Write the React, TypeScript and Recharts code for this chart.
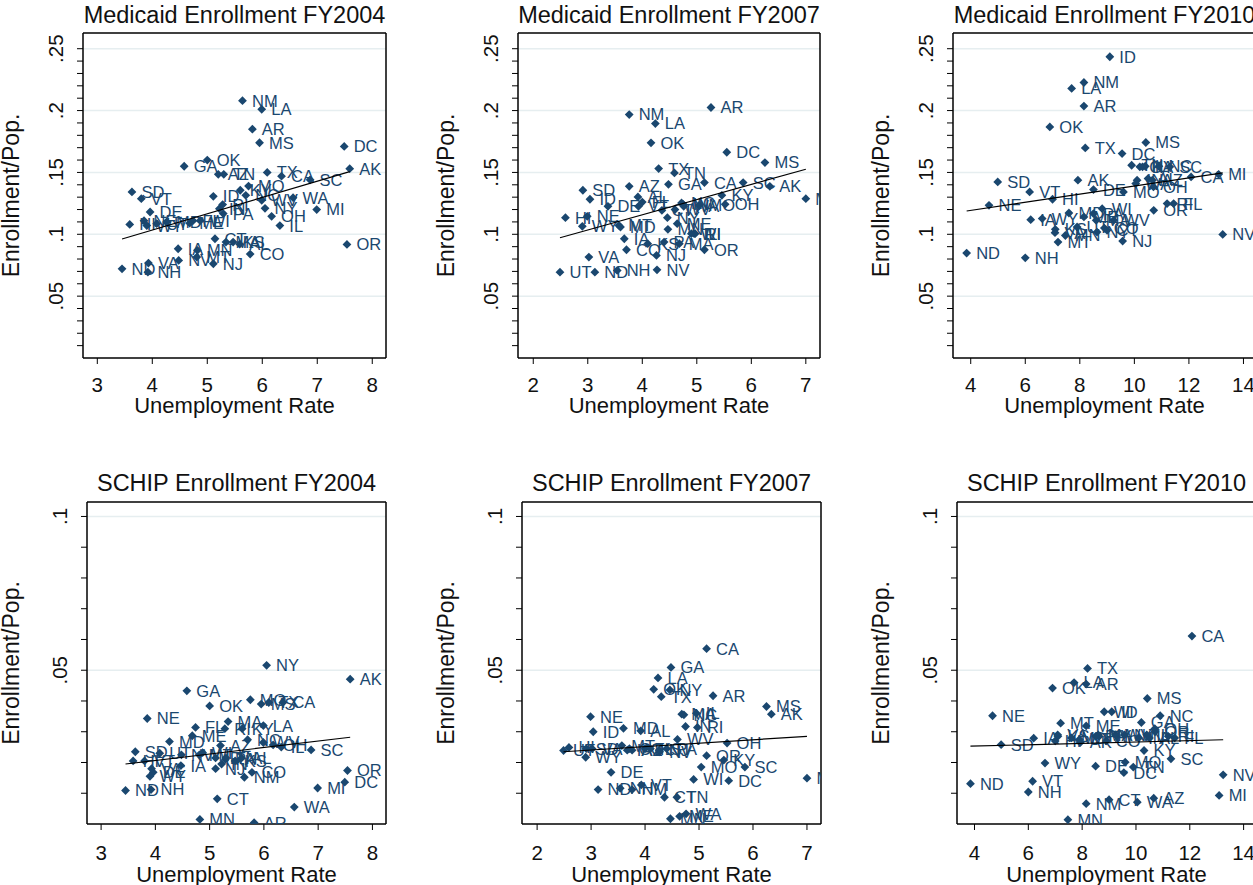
import React from "react";
import { ScatterChart, Scatter, XAxis, YAxis, ReferenceLine } from "recharts";

// state order shared by every array below
const states = [
  "AL", "AK", "AZ", "AR", "CA", "CO", "CT", "DE", "DC", "FL", "GA", "HI", "ID",
  "IL", "IN", "IA", "KS", "KY", "LA", "ME", "MD", "MA", "MI", "MN", "MS", "MO",
  "MT", "NE", "NV", "NH", "NJ", "NM", "NY", "NC", "ND", "OH", "OK", "OR", "PA",
  "RI", "SC", "SD", "TN", "TX", "UT", "VT", "VA", "WA", "WV", "WI", "WY",
];

const unemp2004 = [
  5.59, 7.59, 5.2, 5.82, 6.35, 5.78, 5.14, 3.96, 7.49, 4.74, 4.58, 3.59, 5.11,
  6.32, 5.22, 4.47, 5.47, 5.6, 5.99, 4.68, 4.26, 5.34, 6.99, 4.82, 5.95, 5.75,
  4.81, 3.85, 4.48, 3.92, 5.11, 5.64, 6.05, 5.7, 3.45, 6.17, 5.0, 7.54, 5.29,
  5.28, 6.87, 3.63, 5.3, 6.09, 4.08, 3.8, 3.93, 6.56, 5.99, 4.87, 3.9,
];
const medicaid2004 = [
  0.092, 0.153, 0.1485, 0.185, 0.147, 0.084, 0.0964, 0.118, 0.171, 0.111, 0.155, 0.108, 0.1307,
  0.107, 0.1207, 0.0883, 0.0937, 0.1356, 0.201, 0.109, 0.11, 0.0937, 0.12, 0.087, 0.174, 0.139,
  0.0816, 0.111, 0.0789, 0.0694, 0.0762, 0.208, 0.121, 0.1315, 0.0721, 0.1145, 0.16, 0.0918, 0.1167,
  0.124, 0.144, 0.1342, 0.1485, 0.15, 0.1086, 0.1288, 0.0767, 0.1296, 0.1275, 0.111, 0.107,
];
const schip2004 = [
  0.0215, 0.0471, 0.0255, 0.0004, 0.0395, 0.0168, 0.0082, 0.0168, 0.0136, 0.0314, 0.0433, 0.0205, 0.0215,
  0.025, 0.0195, 0.019, 0.0205, 0.031, 0.032, 0.0287, 0.0268, 0.0333, 0.0117, 0.0015, 0.039, 0.0404,
  0.0225, 0.0343, 0.0225, 0.0112, 0.018, 0.0152, 0.0516, 0.0274, 0.0109, 0.0257, 0.0384, 0.0174, 0.021,
  0.031, 0.0241, 0.0235, 0.0215, 0.0395, 0.023, 0.0205, 0.018, 0.0055, 0.0265, 0.0232, 0.0155,
];

const unemp2007 = [
  3.92, 6.34, 3.76, 5.26, 5.14, 3.71, 4.36, 3.37, 5.55, 4.0, 4.48, 2.59, 3.04,
  4.95, 4.75, 3.67, 4.1, 5.46, 4.24, 4.64, 3.6, 4.68, 7.0, 4.47, 6.25, 5.04,
  3.57, 2.99, 4.27, 3.54, 4.26, 3.76, 4.46, 4.72, 3.13, 5.52, 4.16, 5.14, 4.4,
  4.97, 5.85, 2.91, 4.59, 4.3, 2.49, 3.93, 3.02, 4.76, 4.6, 4.9, 2.9,
];
const medicaid2007 = [
  0.1302, 0.1388, 0.1388, 0.2025, 0.1418, 0.0875, 0.1194, 0.1226, 0.1663, 0.126, 0.1404, 0.1134, 0.1283,
  0.1005, 0.1242, 0.0964, 0.0924, 0.1315, 0.1895, 0.1086, 0.1059, 0.0924, 0.1288, 0.104, 0.158, 0.1234,
  0.1072, 0.1145, 0.0713, 0.0708, 0.0829, 0.1968, 0.1134, 0.1253, 0.0694, 0.1242, 0.1739, 0.0875, 0.0937,
  0.1005, 0.1418, 0.1356, 0.1496, 0.1531, 0.0694, 0.1226, 0.0816, 0.1226, 0.12, 0.1005, 0.1064,
];
const schip2007 = [
  0.0303, 0.0357, 0.024, 0.0417, 0.057, 0.0245, 0.0087, 0.0168, 0.0141, 0.0245, 0.0509, 0.0249, 0.03,
  0.036, 0.0317, 0.024, 0.0245, 0.0208, 0.0475, 0.0025, 0.0311, 0.0357, 0.0149, 0.0017, 0.0382, 0.0185,
  0.0255, 0.0349, 0.0235, 0.0116, 0.024, 0.0112, 0.0436, 0.0355, 0.0112, 0.0263, 0.0438, 0.0222, 0.0245,
  0.0314, 0.0185, 0.0245, 0.0087, 0.0414, 0.0239, 0.0127, 0.0245, 0.0033, 0.0275, 0.0145, 0.0217,
];

const unemp2010 = [
  10.5, 7.93, 10.66, 8.15, 12.08, 8.9, 9.0, 8.5, 9.55, 11.44, 10.2, 7.0, 9.1,
  10.4, 10.1, 6.2, 7.1, 10.3, 7.7, 8.15, 7.6, 8.6, 13.09, 7.47, 10.42, 9.6,
  7.2, 4.67, 13.24, 6.0, 9.57, 8.15, 8.63, 10.9, 3.85, 10.7, 6.9, 10.71, 8.5,
  11.2, 11.3, 4.99, 9.9, 8.2, 7.9, 6.16, 7.09, 10.05, 9.24, 8.82, 6.62,
];
const medicaid2010 = [
  0.145, 0.1437, 0.1437, 0.2036, 0.1464, 0.105, 0.1032, 0.1361, 0.1652, 0.1248, 0.1545, 0.1283, 0.2435,
  0.155, 0.1437, 0.1118, 0.104, 0.1545, 0.2179, 0.114, 0.1172, 0.1113, 0.1485, 0.099, 0.1742, 0.1342,
  0.0937, 0.1234, 0.0999, 0.081, 0.0945, 0.2227, 0.1018, 0.155, 0.0848, 0.1383, 0.1868, 0.1194, 0.1167,
  0.1248, 0.1545, 0.1423, 0.1558, 0.1698, 0.1059, 0.1342, 0.1013, 0.141, 0.1113, 0.1207, 0.1127,
];
const schip2010 = [
  0.028, 0.0265, 0.0084, 0.0455, 0.0611, 0.027, 0.0079, 0.0188, 0.0167, 0.028, 0.033, 0.027, 0.0365,
  0.029, 0.028, 0.0279, 0.0285, 0.0239, 0.046, 0.0319, 0.028, 0.029, 0.0093, 0.0014, 0.0408, 0.0201,
  0.0328, 0.0352, 0.016, 0.0104, 0.029, 0.0066, 0.0285, 0.0352, 0.0131, 0.031, 0.0442, 0.03, 0.0285,
  0.0285, 0.0212, 0.0258, 0.0185, 0.0506, 0.0275, 0.0139, 0.029, 0.0071, 0.029, 0.0365, 0.0198,
];

// linear fit end points
const fitX2004 = [3.45, 7.59];
const medicaidFit2004 = [0.0962, 0.1506];
const schipFit2004 = [0.0195, 0.0282];
const fitX2007 = [2.49, 7.0];
const medicaidFit2007 = [0.0972, 0.1526];
const schipFit2007 = [0.0235, 0.0285];
const fitX2010 = [3.85, 13.24];
const medicaidFit2010 = [0.1188, 0.1496];
const schipFit2010 = [0.0253, 0.0274];

// axes
const xTicks2004 = [3, 4, 5, 6, 7, 8];
const xTicks2007 = [2, 3, 4, 5, 6, 7];
const xTicks2010 = [4, 6, 8, 10, 12, 14];
const xDomain2004 = [2.74, 8.25];
const xDomain2007 = [1.72, 7.26];
const xDomain2010 = [3.35, 14.46];

const medicaidMinorTicks = [
  0.01, 0.02, 0.03, 0.04, 0.05, 0.06, 0.07, 0.08, 0.09, 0.1, 0.11, 0.12, 0.13,
  0.14, 0.15, 0.16, 0.17, 0.18, 0.19, 0.2, 0.21, 0.22, 0.23, 0.24, 0.25,
];
const medicaidLabelValues = [0.05, 0.1, 0.15, 0.2, 0.25];
const medicaidLabelText = [".05", ".1", ".15", ".2", ".25"];
const schipMinorTicks = [0.01, 0.02, 0.03, 0.04, 0.05, 0.06, 0.07, 0.08, 0.09, 0.1];
const schipLabelValues = [0.05, 0.1];
const schipLabelText = [".05", ".1"];
const medicaidDomain = [0, 0.2627];
const schipDomain = [0, 0.1047];

const navy = "#1a476f";
const gridColor = "#e6eef0";
const ink = "#111";

const makeRows = (xs: number[], ys: number[]) =>
  states.map((s, i) => ({ state: s, x: xs[i], y: ys[i] }));
const makeFit = (xs: number[], ys: number[]) => xs.map((x, i) => ({ x, y: ys[i] }));

const StateMark = (props: any) => {
  const { cx, cy, payload } = props;
  if (cx == null || cy == null) return <g />;
  const r = 4.4;
  return (
    <g>
      <path
        d={`M${cx},${cy - r}L${cx + r},${cy}L${cx},${cy + r}L${cx - r},${cy}Z`}
        fill={navy}
      />
      <text x={cx + 9.5} y={cy} dy="0.36em" fontSize={16.5} fill={navy}>
        {payload.state}
      </text>
    </g>
  );
};

const XTick = (props: any) => {
  const { x, y, payload } = props;
  return (
    <text x={x} y={y} dy="0.72em" textAnchor="middle" fontSize={20.5} fill={ink}>
      {payload.value}
    </text>
  );
};

const makeYTick = (values: number[], text: string[]) => (props: any) => {
  const { x, y, payload } = props;
  const i = values.findIndex((v) => Math.abs(v - payload.value) < 1e-6);
  if (i < 0) return <g />;
  return (
    <text
      x={x}
      y={y}
      transform={`rotate(-90, ${x}, ${y})`}
      textAnchor="middle"
      fontSize={20.5}
      fill={ink}
    >
      {text[i]}
    </text>
  );
};

type PanelProps = {
  title: string;
  left: number;
  top: number;
  yw: number;
  pw: number;
  ph: number;
  mt: number;
  xh: number;
  titleTop: number;
  yTitleOffset: number;
  xTitleOffset: number;
  xTickMargin: number;
  xDomain: number[];
  xTicks: number[];
  yDomain: number[];
  yTicks: number[];
  labelValues: number[];
  labelText: string[];
  points: { state: string; x: number; y: number }[];
  fit: { x: number; y: number }[];
};

function Panel(p: PanelProps) {
  const width = p.yw + p.pw + 10;
  const height = p.mt + p.ph + p.xh;
  return (
    <>
      <div
        style={{
          position: "absolute",
          left: p.left + p.yw - 60,
          top: p.titleTop,
          width: p.pw + 120,
          textAlign: "center",
          fontSize: 23.5,
          lineHeight: "24px",
          whiteSpace: "nowrap",
          color: ink,
        }}
      >
        {p.title}
      </div>
      <div style={{ position: "absolute", left: p.left, top: p.top }}>
        <ScatterChart
          width={width}
          height={height}
          margin={{ top: p.mt, right: 10, bottom: 0, left: 0 }}
        >
          {p.labelValues.map((v) => (
            <ReferenceLine key={v} y={v} stroke={gridColor} strokeWidth={1.5} />
          ))}
          <XAxis
            type="number"
            dataKey="x"
            domain={p.xDomain}
            ticks={p.xTicks}
            interval={0}
            allowDataOverflow
            height={p.xh}
            tickSize={6}
            tickMargin={p.xTickMargin}
            tick={(t: any) => <XTick {...t} />}
            tickLine={{ stroke: "#000" }}
            axisLine={{ stroke: "#000", strokeWidth: 1.5 }}
            label={{
              value: "Unemployment Rate",
              position: "insideBottom",
              offset: p.xTitleOffset,
              fontSize: 22,
              fill: ink,
            }}
          />
          <YAxis
            type="number"
            dataKey="y"
            domain={p.yDomain}
            ticks={p.yTicks}
            interval={0}
            allowDataOverflow
            width={p.yw}
            tickSize={6}
            tickMargin={14}
            tick={makeYTick(p.labelValues, p.labelText)}
            tickLine={{ stroke: "#000" }}
            axisLine={{ stroke: "#000", strokeWidth: 1.5 }}
            label={{
              value: "Enrollment/Pop.",
              angle: -90,
              position: "insideLeft",
              offset: p.yTitleOffset,
              fontSize: 23,
              fill: ink,
              style: { textAnchor: "middle" },
            }}
          />
          <ReferenceLine y={p.yDomain[1]} stroke="#000" strokeWidth={1.5} />
          <ReferenceLine x={p.xDomain[1]} stroke="#000" strokeWidth={1.5} />
          <Scatter
            data={p.points}
            shape={(s: any) => <StateMark {...s} />}
            isAnimationActive={false}
          />
          <Scatter
            data={p.fit}
            line={{ stroke: "#000", strokeWidth: 1.2 }}
            shape={() => <g />}
            isAnimationActive={false}
          />
        </ScatterChart>
      </div>
    </>
  );
}

const topRow = { top: 0, mt: 33, ph: 325, xh: 62, titleTop: 3, xTitleOffset: 7, xTickMargin: 13 };
const bottomRow = { top: 460, mt: 42, ph: 322, xh: 61, titleTop: 471, xTitleOffset: 3, xTickMargin: 15 };

export default function App() {
  const medicaid = { yDomain: medicaidDomain, yTicks: medicaidMinorTicks, labelValues: medicaidLabelValues, labelText: medicaidLabelText };
  const schip = { yDomain: schipDomain, yTicks: schipMinorTicks, labelValues: schipLabelValues, labelText: schipLabelText };
  return (
    <div
      style={{
        position: "absolute",
        left: 0,
        top: 0,
        width: 1253,
        height: 885,
        overflow: "hidden",
        background: "#fff",
        fontFamily: '"Liberation Sans", Arial, Helvetica, sans-serif',
      }}
    >
      <Panel
        title="Medicaid Enrollment FY2004"
        left={0} yw={83} pw={303} yTitleOffset={11}
        {...topRow} {...medicaid}
        xDomain={xDomain2004} xTicks={xTicks2004}
        points={makeRows(unemp2004, medicaid2004)}
        fit={makeFit(fitX2004, medicaidFit2004)}
      />
      <Panel
        title="Medicaid Enrollment FY2007"
        left={430} yw={88} pw={302} yTitleOffset={16}
        {...topRow} {...medicaid}
        xDomain={xDomain2007} xTicks={xTicks2007}
        points={makeRows(unemp2007, medicaid2007)}
        fit={makeFit(fitX2007, medicaidFit2007)}
      />
      <Panel
        title="Medicaid Enrollment FY2010"
        left={865} yw={88} pw={303} yTitleOffset={16}
        {...topRow} {...medicaid}
        xDomain={xDomain2010} xTicks={xTicks2010}
        points={makeRows(unemp2010, medicaid2010)}
        fit={makeFit(fitX2010, medicaidFit2010)}
      />
      <Panel
        title="SCHIP Enrollment FY2004"
        left={0} yw={87} pw={299} yTitleOffset={11}
        {...bottomRow} {...schip}
        xDomain={xDomain2004} xTicks={xTicks2004}
        points={makeRows(unemp2004, schip2004)}
        fit={makeFit(fitX2004, schipFit2004)}
      />
      <Panel
        title="SCHIP Enrollment FY2007"
        left={430} yw={92} pw={299} yTitleOffset={16}
        {...bottomRow} {...schip}
        xDomain={xDomain2007} xTicks={xTicks2007}
        points={makeRows(unemp2007, schip2007)}
        fit={makeFit(fitX2007, schipFit2007)}
      />
      <Panel
        title="SCHIP Enrollment FY2010"
        left={865} yw={92} pw={299} yTitleOffset={16}
        {...bottomRow} {...schip}
        xDomain={xDomain2010} xTicks={xTicks2010}
        points={makeRows(unemp2010, schip2010)}
        fit={makeFit(fitX2010, schipFit2010)}
      />
    </div>
  );
}
